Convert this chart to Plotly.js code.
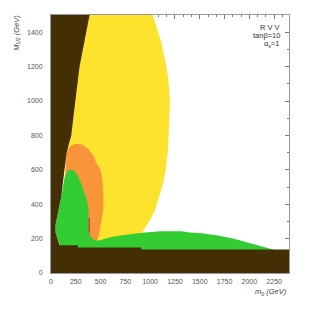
<!DOCTYPE html>
<html><head><meta charset="utf-8">
<script src="https://cdn.plot.ly/plotly-3.0.1.min.js"></script>
<style>html,body{margin:0;padding:0;background:#fff}#c{width:309px;height:309px}</style>
</head><body><div id="c"></div>
<script>
// Region boundaries (m0 [GeV], M1/2 [GeV])
const yellowM0 = [100,200,350,1025,1070,1113,1150,1180,1200,1195,1185,1180,1157,1130,1080,1045,1000,955,915,900,480,300,100];
const yellowM12 = [300,1000,1500,1500,1420,1338,1240,1143,1000,900,800,715,599,521,424,360,310,265,233,200,180,180,180];

const orangeM0 = [140,150,165,200,240,275,320,380,430,456,490,507,520,528,530,525,517,507,490,473,460,420,400,300,140];
const orangeM12 = [500,640,715,740,750,752,745,718,680,640,610,580,530,470,424,360,327,297,240,200,188,188,200,200,200];

const greenM0 = [86,63,45,45,69,86,103,120,136,153,175,200,225,250,275,305,335,362,375,382,386,389,395,410,440,473,540,608,700,776,860,944,1050,1096,1315,1400,1500,1668,1836,2005,2140,2240,2240,86];
const greenM12 = [165,200,239,278,336,395,440,500,550,580,598,602,598,585,560,521,475,424,380,327,280,249,215,200,192,188,200,210,218,224,230,236,240,243,243,236,233,220,200,175,152,136,100,100];

const redM0 = [378,392,394,381];
const redM12 = [235,235,320,320];

const brownM0 = [0,0,389,355,288,247,204,175,160,136,120,103,86,69,45,45,63,86,86,271,271,911,911,2400,2400];
const brownM12 = [0,1500,1500,1396,1201,1007,800,740,705,600,520,440,395,336,278,239,200,165,161,161,148,148,136,136,0];

const xTicks = [0,250,500,750,1000,1250,1500,1750,2000,2250];
const yTicks = [0,200,400,600,800,1000,1200,1400];
const infoLines = ['R V V','tan\u03b2=10','\u03b1<sub>s</sub>=1'];

function region(x, y, color) {
  return {x: x, y: y, type: 'scatter', mode: 'lines', fill: 'toself',
    fillcolor: color, line: {width: 0, color: color}, hoverinfo: 'skip', showlegend: false};
}

const data = [
  region(yellowM0, yellowM12, '#fde22e'),
  region(orangeM0, orangeM12, '#f8953a'),
  region(greenM0, greenM12, '#33cc33'),
  region(redM0, redM12, '#e3352b'),
  region(brownM0, brownM12, '#442e05')
];

const tickFont = {family: 'Liberation Sans, Arial, sans-serif', size: 7, color: '#555'};
const layout = {
  width: 309, height: 309,
  margin: {l: 51, r: 20, t: 15, b: 36},
  paper_bgcolor: '#fff', plot_bgcolor: '#fff',
  showlegend: false,
  xaxis: {range: [0, 2400], tickvals: xTicks, ticktext: xTicks.map(String),
    showgrid: false, zeroline: false, showline: true, linecolor: '#999', linewidth: 1,
    mirror: 'ticks', ticks: 'inside', ticklen: 4, tickcolor: '#777', tickwidth: 1,
    minor: {ticks: 'inside', ticklen: 2, dtick: 250/3, tick0: 0, tickcolor: '#777'},
    layer: 'below traces', tickfont: tickFont, ticklabelstandoff: 2},
  yaxis: {range: [0, 1500], tickvals: yTicks, ticktext: yTicks.map(String),
    showgrid: false, zeroline: false, showline: true, linecolor: '#999', linewidth: 1,
    mirror: 'ticks', ticks: 'inside', ticklen: 4, tickcolor: '#777', tickwidth: 1,
    minor: {ticks: 'inside', ticklen: 2, dtick: 100, tick0: 0, tickcolor: '#777'},
    layer: 'below traces', tickfont: tickFont, ticklabelstandoff: 6},
  annotations: [
    {xref: 'paper', yref: 'paper', x: 0.971, y: 0.953, xanchor: 'right', yanchor: 'middle',
     text: infoLines[0], showarrow: false, font: {family: 'Liberation Sans, Arial, sans-serif', size: 7.5, color: '#333'}},
    {xref: 'paper', yref: 'paper', x: 0.971, y: 0.922, xanchor: 'right', yanchor: 'middle',
     text: infoLines[1], showarrow: false, font: {family: 'Liberation Sans, Arial, sans-serif', size: 7.5, color: '#333'}},
    {xref: 'paper', yref: 'paper', x: 0.971, y: 0.889, xanchor: 'right', yanchor: 'middle',
     text: infoLines[2], showarrow: false, font: {family: 'Liberation Sans, Arial, sans-serif', size: 7.5, color: '#333'}},
    {xref: 'paper', yref: 'paper', x: -0.144, y: 0.93, xanchor: 'center', yanchor: 'middle', textangle: -90,
     text: '<i>M</i><sub>1/2</sub> <i>(GeV)</i>', showarrow: false, font: {family: 'Liberation Sans, Arial, sans-serif', size: 7.5, color: '#444'}},
    {xref: 'paper', yref: 'paper', x: 1.0, y: -0.074, xanchor: 'right', yanchor: 'middle',
     text: '<i>m</i><sub>0</sub> <i>(GeV)</i>', showarrow: false, font: {family: 'Liberation Sans, Arial, sans-serif', size: 7.5, color: '#444'}}
  ]
};
Plotly.newPlot('c', data, layout, {staticPlot: true, displayModeBar: false});
</script></body></html>
